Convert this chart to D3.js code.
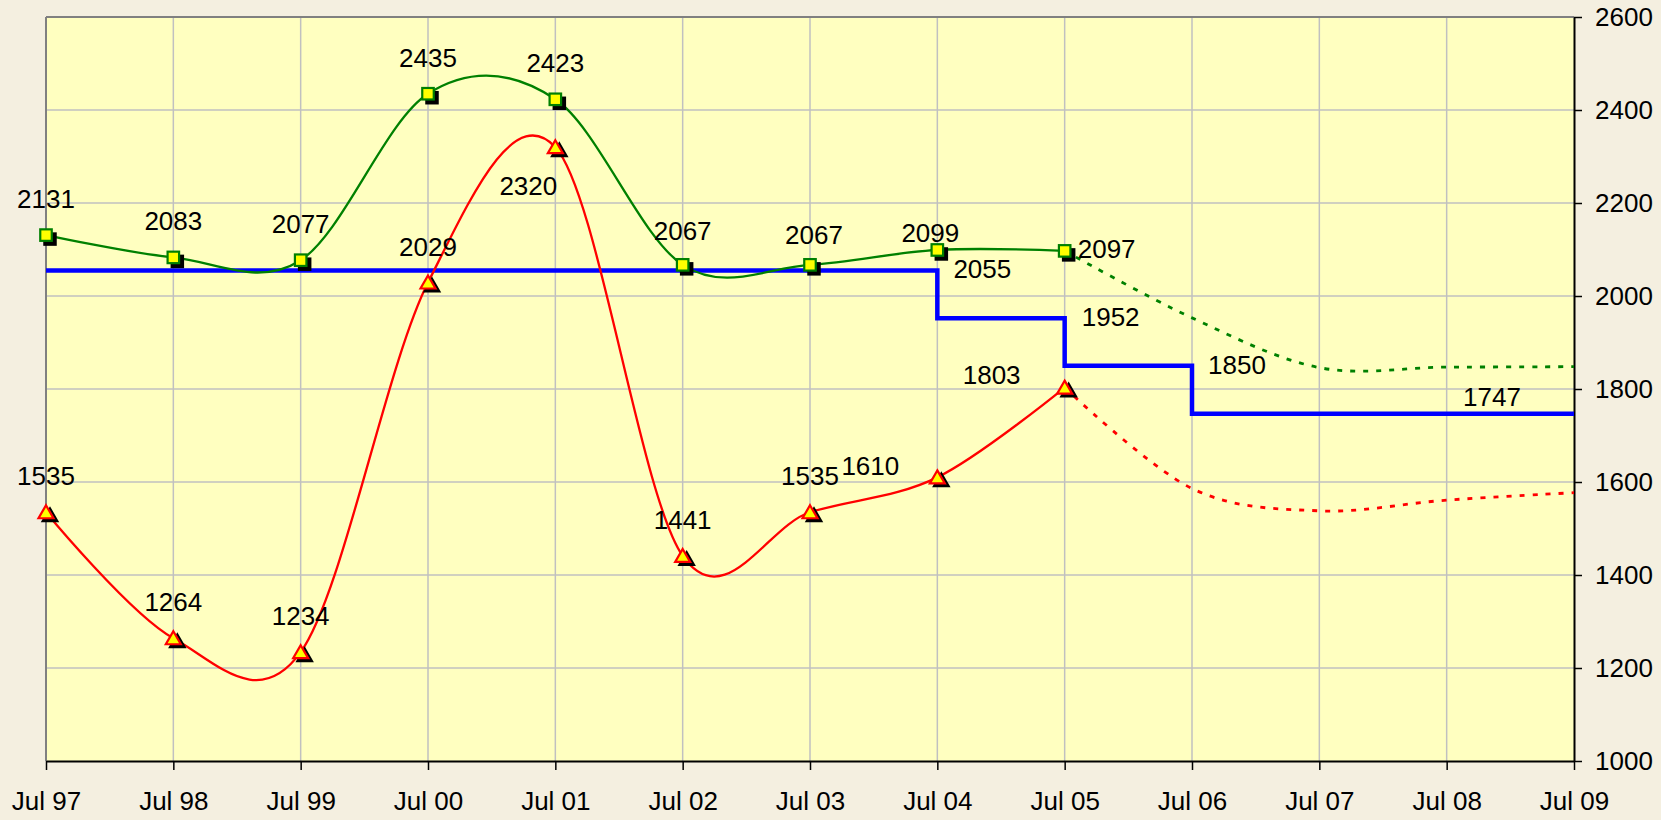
<!DOCTYPE html>
<html>
<head>
<meta charset="utf-8">
<script src="https://cdn.jsdelivr.net/npm/d3@7"></script>
<style>
  html, body { margin: 0; padding: 0; background: #F4EFE0; }
  svg { display: block; }
  text { font-family: "Liberation Sans", Arial, sans-serif; fill: #000; }
</style>
</head>
<body>
<script>
// ---------- data ----------
const categories = ["Jul 97","Jul 98","Jul 99","Jul 00","Jul 01","Jul 02","Jul 03","Jul 04","Jul 05","Jul 06","Jul 07","Jul 08","Jul 09"];
const yTicks = [1000,1200,1400,1600,1800,2000,2200,2400,2600];

const greenCats   = ["Jul 97","Jul 98","Jul 99","Jul 00","Jul 01","Jul 02","Jul 03","Jul 04","Jul 05"];
const greenValues = [2131, 2083, 2077, 2435, 2423, 2067, 2067, 2099, 2097];

const redCats   = ["Jul 97","Jul 98","Jul 99","Jul 00","Jul 01","Jul 02","Jul 03","Jul 04","Jul 05"];
const redValues = [1535, 1264, 1234, 2029, 2320, 1441, 1535, 1610, 1803];

const projCats        = ["Jul 05","Jul 06","Jul 07","Jul 08","Jul 09"];
const greenProjection = [2097, 1953, 1846, 1847, 1848];
const redProjection   = [1803, 1586, 1538, 1561, 1577];

const blueCats   = ["Jul 97","Jul 04","Jul 05","Jul 06","Jul 09"];
const blueValues = [2055, 1952, 1850, 1747, 1747];
const blueLabelCats = ["Jul 04","Jul 05","Jul 06","Jul 09"];
const blueLabelValues = [2055, 1952, 1850, 1747];

// ---------- layout / style ----------
const W = 1661, H = 820;
const plot = { left: 46, right: 1574, top: 17, bottom: 761 };
const FONT = 26;
const COL = { bg: "#F4EFE0", plot: "#FFFFC0", grid: "#C0C0C0", green: "#008000", red: "#FF0000", blue: "#0000FF", marker: "#FFFF00" };

// label offsets (dx, dy of baseline relative to the point)
const greenLabelOffsets = [[0,-27],[0,-27],[0,-27],[0,-27],[0,-27],[0,-25],[4,-21],[-7,-8],[42,7]];
const redLabelOffsets   = [[0,-27],[0,-27],[0,-27],[0,-27],[-27,48],[0,-27],[0,-27],[-67,-2],[-73,-4]];
const blueLabelOffsets  = [[45,8],[46,8],[45,8],[-82,-8]];

const svg = d3.select("body").append("svg").attr("width", W).attr("height", H);
svg.append("rect").attr("width", W).attr("height", H).attr("fill", COL.bg);

const x = d3.scalePoint().domain(categories).range([plot.left, plot.right]);
const y = d3.scaleLinear().domain([1000, 2600]).range([plot.bottom, plot.top]);

// plot area
svg.append("rect").attr("x", plot.left).attr("y", plot.top)
  .attr("width", plot.right - plot.left).attr("height", plot.bottom - plot.top)
  .attr("fill", COL.plot);

// grid
const grid = svg.append("g").attr("stroke", COL.grid).attr("stroke-width", 1.5);
grid.selectAll("line.v").data(categories.slice(1, -1)).join("line")
  .attr("x1", d => x(d)).attr("x2", d => x(d)).attr("y1", plot.top).attr("y2", plot.bottom);
grid.selectAll("line.h").data(yTicks.slice(1, -1)).join("line")
  .attr("x1", plot.left).attr("x2", plot.right).attr("y1", d => y(d)).attr("y2", d => y(d));

// borders
svg.append("line").attr("x1", plot.left).attr("x2", plot.left).attr("y1", plot.top).attr("y2", plot.bottom)
  .attr("stroke", "#808080").attr("stroke-width", 2);
svg.append("line").attr("x1", plot.left).attr("x2", plot.right).attr("y1", plot.top).attr("y2", plot.top)
  .attr("stroke", "#808080").attr("stroke-width", 2);

// axes
const xAxis = d3.axisBottom(x).tickSizeInner(9).tickSizeOuter(0).tickPadding(22);
const gx = svg.append("g").attr("transform", `translate(0,${plot.bottom})`).call(xAxis);
gx.select(".domain").attr("stroke", "#000").attr("stroke-width", 2);
gx.selectAll(".tick line").attr("stroke", "#000").attr("stroke-width", 1.5);
gx.selectAll(".tick text").attr("font-size", FONT).attr("font-family", "Liberation Sans, Arial, sans-serif").attr("fill", "#000");

const yAxis = d3.axisRight(y).tickValues(yTicks).tickSizeInner(8).tickSizeOuter(0).tickPadding(13).tickFormat(d3.format("d"));
const gy = svg.append("g").attr("transform", `translate(${plot.right},0)`).call(yAxis);
gy.select(".domain").attr("stroke", "#000").attr("stroke-width", 2);
gy.selectAll(".tick line").attr("stroke", "#000").attr("stroke-width", 1.5);
gy.selectAll(".tick text").attr("font-size", FONT).attr("font-family", "Liberation Sans, Arial, sans-serif").attr("fill", "#000");

// lines
const smooth = d3.line().x(d => x(d[0])).y(d => y(d[1])).curve(d3.curveCardinal.tension(0));
const zip = (a, b) => a.map((c, i) => [c, b[i]]);

svg.append("path").datum(zip(projCats, greenProjection)).attr("d", smooth)
  .attr("fill", "none").attr("stroke", COL.green).attr("stroke-width", 2.8).attr("stroke-dasharray", "5 8");
svg.append("path").datum(zip(projCats, redProjection)).attr("d", smooth)
  .attr("fill", "none").attr("stroke", COL.red).attr("stroke-width", 2.8).attr("stroke-dasharray", "5 8");

const step = d3.line().x(d => x(d[0])).y(d => y(d[1])).curve(d3.curveStepAfter);
svg.append("path").datum(zip(blueCats, blueValues)).attr("d", step)
  .attr("fill", "none").attr("stroke", COL.blue).attr("stroke-width", 4.5);

svg.append("path").datum(zip(greenCats, greenValues)).attr("d", smooth)
  .attr("fill", "none").attr("stroke", COL.green).attr("stroke-width", 2.3);
svg.append("path").datum(zip(redCats, redValues)).attr("d", smooth)
  .attr("fill", "none").attr("stroke", COL.red).attr("stroke-width", 2.3);

// markers
const gData = zip(greenCats, greenValues);
const rData = zip(redCats, redValues);
const sq = 11.5;
svg.append("g").selectAll("rect").data(gData).join("rect")
  .attr("x", d => x(d[0]) - sq/2 + 4).attr("y", d => y(d[1]) - sq/2 + 4)
  .attr("width", sq).attr("height", sq).attr("fill", "#000").attr("stroke", "#000").attr("stroke-width", 2);
svg.append("g").selectAll("rect").data(gData).join("rect")
  .attr("x", d => x(d[0]) - sq/2).attr("y", d => y(d[1]) - sq/2)
  .attr("width", sq).attr("height", sq).attr("fill", COL.marker).attr("stroke", COL.green).attr("stroke-width", 2.2);

const tri = (cx, cy) => `M${cx},${cy-7} L${cx+7.5},${cy+6} L${cx-7.5},${cy+6} Z`;
svg.append("g").selectAll("path").data(rData).join("path")
  .attr("d", d => tri(x(d[0]) + 4, y(d[1]) + 3)).attr("fill", "#000").attr("stroke", "#000").attr("stroke-width", 2);
svg.append("g").selectAll("path").data(rData).join("path")
  .attr("d", d => tri(x(d[0]), y(d[1]))).attr("fill", COL.marker).attr("stroke", COL.red).attr("stroke-width", 2.2);

// labels
const labels = svg.append("g").attr("font-size", FONT).attr("text-anchor", "middle");
labels.selectAll("text.g").data(gData).join("text")
  .attr("x", (d, i) => x(d[0]) + greenLabelOffsets[i][0])
  .attr("y", (d, i) => y(d[1]) + greenLabelOffsets[i][1])
  .text(d => d[1]);
labels.selectAll("text.r").data(rData).join("text")
  .attr("x", (d, i) => x(d[0]) + redLabelOffsets[i][0])
  .attr("y", (d, i) => y(d[1]) + redLabelOffsets[i][1])
  .text(d => d[1]);
labels.selectAll("text.b").data(zip(blueLabelCats, blueLabelValues)).join("text")
  .attr("x", (d, i) => x(d[0]) + blueLabelOffsets[i][0])
  .attr("y", (d, i) => y(d[1]) + blueLabelOffsets[i][1])
  .text(d => d[1]);
</script>
</body>
</html>
